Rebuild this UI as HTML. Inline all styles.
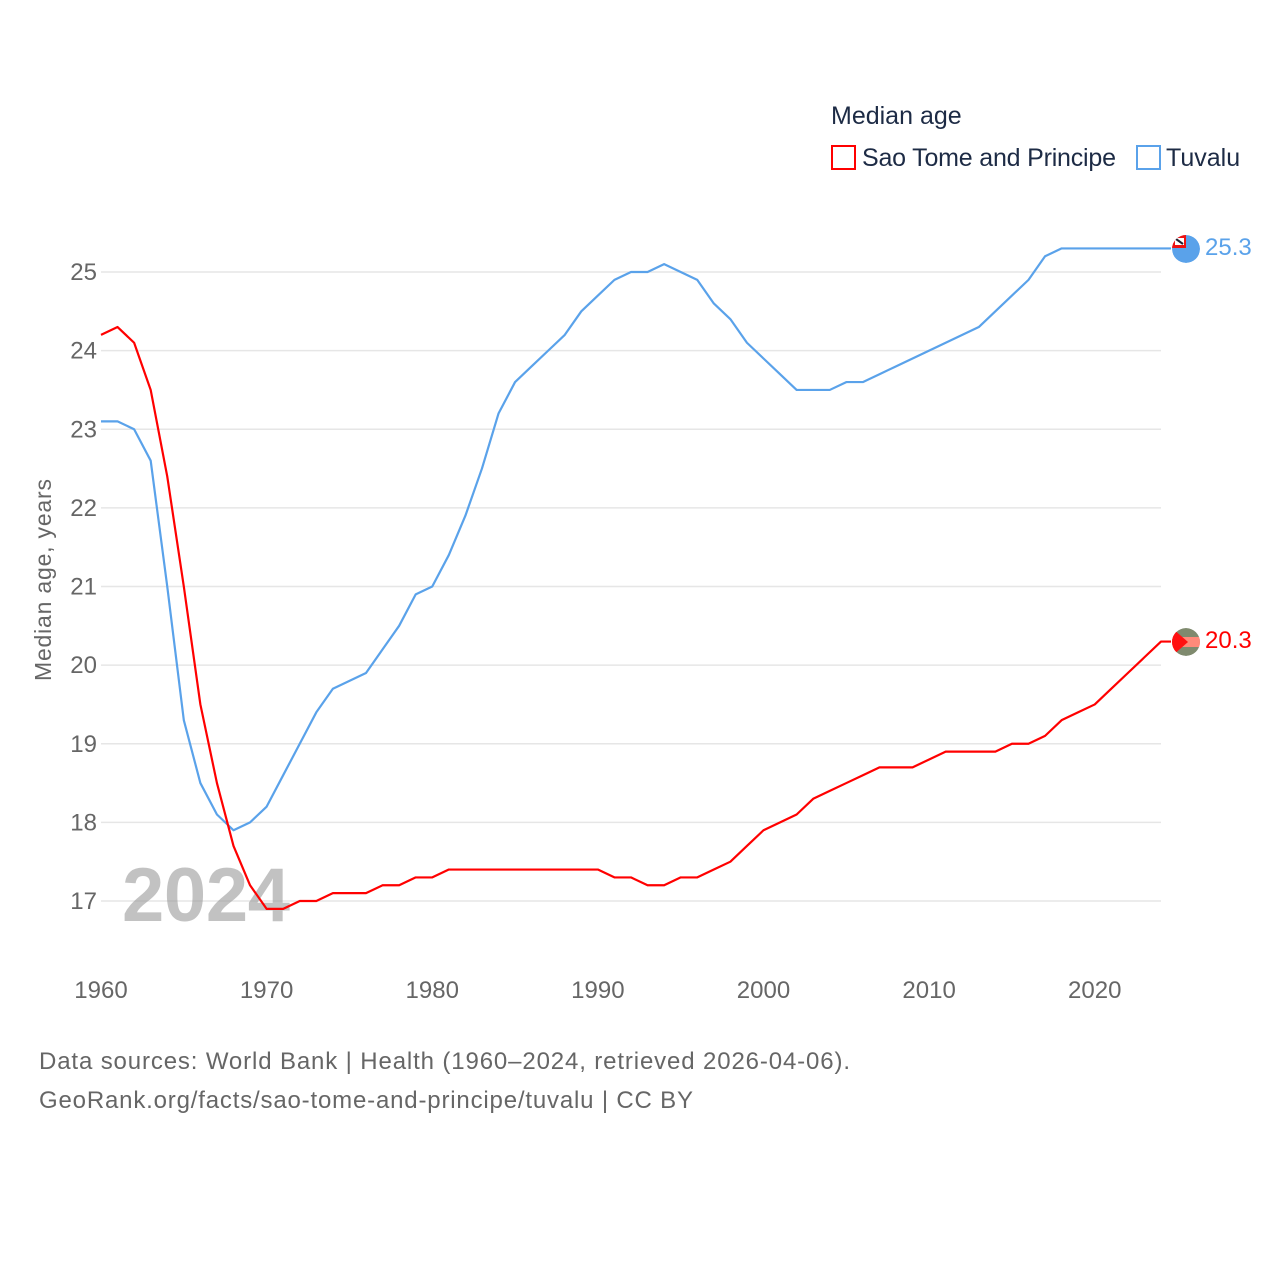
<!DOCTYPE html>
<html><head><meta charset="utf-8"><style>
body{margin:0;background:#fff;font-family:"Liberation Sans",sans-serif}
</style></head><body>
<svg id="chart" width="1280" height="1280" xmlns="http://www.w3.org/2000/svg" font-family="Liberation Sans, sans-serif">
<defs><clipPath id="c1"><circle cx="1186" cy="249" r="14"/></clipPath><clipPath id="c2"><circle cx="1186" cy="642" r="14"/></clipPath></defs>
<rect width="1280" height="1280" fill="#fff"/>
<text x="831" y="124" font-size="25" fill="#1d2b45">Median age</text>
<g><rect x="832" y="146" width="23" height="23" fill="none" stroke="#ff0000" stroke-width="2"/><text x="862" y="166" font-size="25" fill="#1d2b45" textLength="254">Sao Tome and Principe</text></g>
<g><rect x="1137" y="146" width="23" height="23" fill="none" stroke="#5aa2ea" stroke-width="2"/><text x="1166" y="166" font-size="25" fill="#1d2b45">Tuvalu</text></g>
<text transform="translate(51,580) rotate(-90)" text-anchor="middle" font-size="23" fill="#666" textLength="202">Median age, years</text>
<g id="grid"></g><g id="yt"></g><g id="xt"></g>
<text x="122" y="921" font-size="76" font-weight="bold" fill="#999" fill-opacity="0.6" textLength="168">2024</text>
<g id="lines"></g>
<g clip-path="url(#c1)"><circle cx="1186" cy="249" r="14" fill="#5aa2ea"/><rect x="1172" y="235" width="14" height="13" fill="#e11"/><rect x="1175" y="238" width="9" height="7" fill="#fff"/><path d="M1176,239 L1183,244" stroke="#223" stroke-width="2"/></g>
<text x="1205" y="255" font-size="24" fill="#5aa2ea">25.3</text>
<g clip-path="url(#c2)"><circle cx="1186" cy="642" r="14" fill="#7f8a6e"/><rect x="1172" y="637" width="28" height="10" fill="#ff8a7a"/><path d="M1172,628 L1188,642 L1172,656Z" fill="#ff1010"/></g>
<text x="1205" y="648" font-size="24" fill="#ff0000">20.3</text>
<text x="39" y="1069" font-size="24" fill="#666" textLength="811">Data sources: World Bank | Health (1960–2024, retrieved 2026-04-06).</text>
<text x="39" y="1108" font-size="24" fill="#666" textLength="654">GeoRank.org/facts/sao-tome-and-principe/tuvalu | CC BY</text>
</svg>
<script>
const years=[];for(let y=1960;y<=2024;y++)years.push(y);
const tuvalu=[23.1,23.1,23.0,22.6,21.0,19.3,18.5,18.1,17.9,18.0,18.2,18.6,19.0,19.4,19.7,19.8,19.9,20.2,20.5,20.9,21.0,21.4,21.9,22.5,23.2,23.6,23.8,24.0,24.2,24.5,24.7,24.9,25.0,25.0,25.1,25.0,24.9,24.6,24.4,24.1,23.9,23.7,23.5,23.5,23.5,23.6,23.6,23.7,23.8,23.9,24.0,24.1,24.2,24.3,24.5,24.7,24.9,25.2,25.3,25.3,25.3,25.3,25.3,25.3,25.3];
const saoTome=[24.2,24.3,24.1,23.5,22.4,21.0,19.5,18.5,17.7,17.2,16.9,16.9,17.0,17.0,17.1,17.1,17.1,17.2,17.2,17.3,17.3,17.4,17.4,17.4,17.4,17.4,17.4,17.4,17.4,17.4,17.4,17.3,17.3,17.2,17.2,17.3,17.3,17.4,17.5,17.7,17.9,18.0,18.1,18.3,18.4,18.5,18.6,18.7,18.7,18.7,18.8,18.9,18.9,18.9,18.9,19.0,19.0,19.1,19.3,19.4,19.5,19.7,19.9,20.1,20.3];
const yTicks=[17,18,19,20,21,22,23,24,25];
const xTicks=[1960,1970,1980,1990,2000,2010,2020];
const NS='http://www.w3.org/2000/svg';
const xs=v=>101+(v-1960)*(1161-101)/64;
const ys=v=>901-(v-17)*(901-272)/8;
function mk(t,a,p){const e=document.createElementNS(NS,t);for(const k in a)e.setAttribute(k,a[k]);p.appendChild(e);return e;}
const grid=document.getElementById('grid'),yt=document.getElementById('yt'),xt=document.getElementById('xt'),lines=document.getElementById('lines');
yTicks.forEach(v=>{
 const l=mk('line',{x1:101,x2:1161,y1:ys(v),y2:ys(v),stroke:'#e6e6e6','stroke-width':1.5},grid);
 
 
 const t=mk('text',{x:97,y:ys(v)+8,'text-anchor':'end','font-size':24,fill:'#666'},yt);t.textContent=v;
 
 
});
xTicks.forEach(v=>{
 const t=mk('text',{x:xs(v),y:998,'text-anchor':'middle','font-size':24,fill:'#666'},xt);t.textContent=v;
 
 
});
function line(d,c,name){
 const p=mk('polyline',{points:d.map((v,i)=>xs(years[i])+','+ys(v)).join(' ')+' '+(xs(2024)+10)+','+ys(d[d.length-1]),fill:'none',stroke:c,'stroke-width':2.2,'stroke-linejoin':'round'},lines);
 
 
}
line(tuvalu,'#5aa2ea','tuvalu-line');
line(saoTome,'#ff0000','sao-tome-line');
</script>
</body></html>
